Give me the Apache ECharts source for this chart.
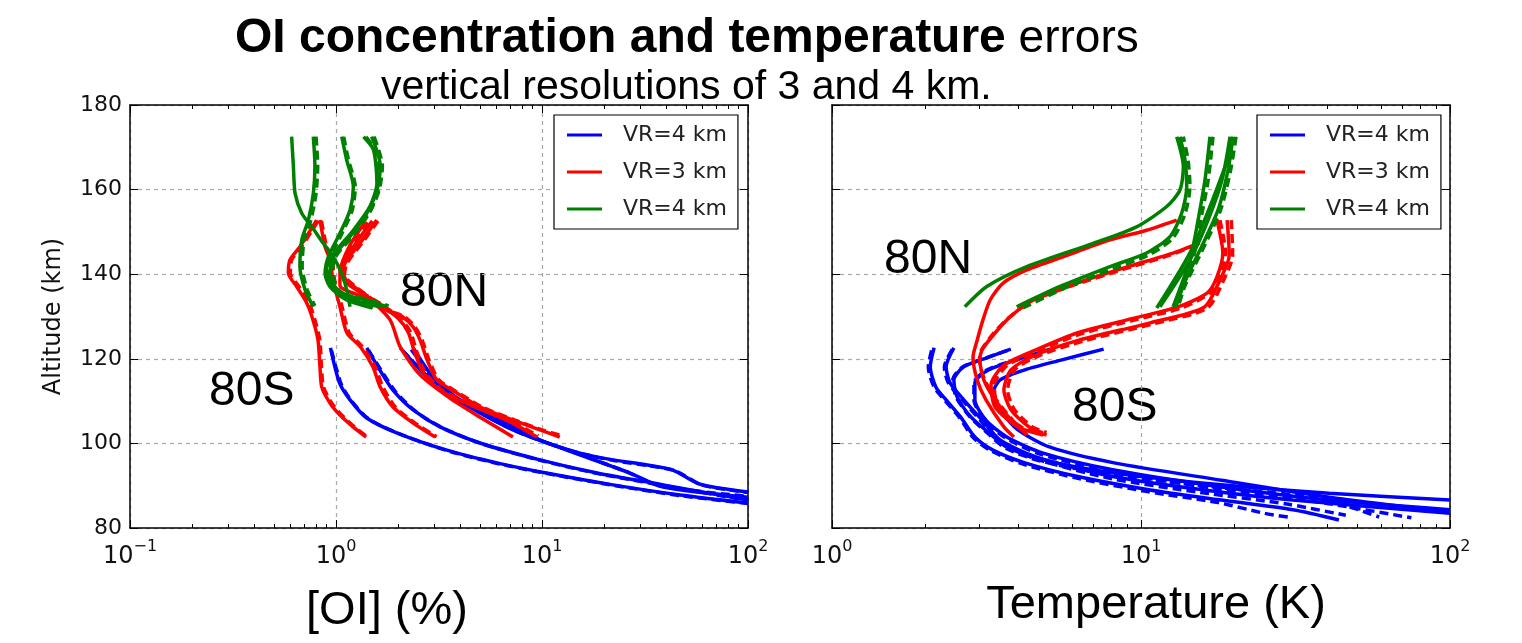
<!DOCTYPE html>
<html><head><meta charset="utf-8">
<script src="https://cdn.jsdelivr.net/npm/echarts@6/dist/echarts.min.js"></script>
<style>html,body{margin:0;padding:0;background:#fff}#c{width:1522px;height:643px}</style>
</head><body><div id="c"></div>
<script>
// ---------- data: [value, altitude km] ----------
// Left panel: [OI] error (%)
const L_B1  = [[0.94,122.6],[1.04,114.3],[1.17,110.3],[1.41,106.0],[1.97,102.5],[3.45,98.4],[6.03,95.4],[10.5,93.0],[22.1,90.2],[46.8,87.8],[100,85.9]];
const L_B1d = [[0.95,122.0],[1.06,114.0],[1.19,110.0],[1.44,105.8],[2.02,102.3],[3.52,98.2],[6.15,95.2],[10.8,92.8],[22.8,90.0],[48.0,87.6],[100,85.8]];
const L_B2  = [[1.41,122.6],[1.63,117.4],[1.89,112.6],[2.37,107.9],[3.20,103.9],[5.00,100.1],[9.77,96.1],[18.5,93.0],[38.7,90.2],[100,86.6]];
const L_B2d = [[1.44,122.0],[1.67,117.0],[1.94,112.3],[2.43,107.6],[3.28,103.7],[5.12,99.9],[10.0,95.9],[19.0,92.8],[39.5,90.0],[100,86.5]];
const L_B3  = [[2.05,122.6],[2.77,115.7],[3.46,111.9],[5.00,107.2],[7.23,103.2],[10.6,100.1],[15.3,97.7],[22.1,96.1],[32.4,94.9],[43.2,93.7],[56.5,90.6],[67.6,89.7],[100,88.5]];
const L_B3d = [[2.10,122.0],[2.83,115.5],[3.55,111.7],[5.12,107.0],[7.40,103.0],[10.9,99.9],[15.7,97.5],[22.7,95.9],[33.2,94.7],[44.5,93.5],[58.0,90.4],[69.0,89.5],[100,88.4]];
const L_B4  = [[2.37,122.6],[3.03,115.0],[4.00,110.3],[6.25,105.5],[9.77,100.8],[15.3,97.3],[26.7,93.0],[38.7,89.7],[100,87.3]];
const L_B4d = [[2.32,122.2],[2.98,115.2],[3.92,110.5],[6.12,105.7],[9.55,101.0],[15.0,97.5],[26.0,93.2],[37.8,89.9],[100,87.5]];

const L_R1  = [[0.805,152.8],[0.668,146.5],[0.598,143.4],[0.587,140.3],[0.644,137.1],[0.721,133.2],[0.773,129.2],[0.818,124.4],[0.836,118.1],[0.853,113.3],[0.936,109.5],[1.045,106.7],[1.21,103.9],[1.40,101.5]];
const L_R1d = [[0.82,152.6],[0.68,146.5],[0.61,143.4],[0.60,140.3],[0.66,137.1],[0.74,133.2],[0.79,129.2],[0.835,124.4],[0.85,118.1],[0.87,113.3],[0.955,109.5],[1.065,106.7],[1.23,103.9],[1.42,101.5]];
const L_R2  = [[0.836,152.8],[0.885,146.5],[0.936,143.4],[0.967,138.6],[1.045,132.3],[1.13,126.1],[1.31,122.9],[1.51,118.1],[1.64,113.3],[1.89,108.6],[2.37,104.8],[3.03,101.5]];
const L_R2d = [[0.85,152.6],[0.90,146.5],[0.955,143.4],[0.985,138.6],[1.07,132.3],[1.16,126.1],[1.34,122.9],[1.55,118.1],[1.69,113.3],[1.94,108.6],[2.42,104.8],[3.08,101.6]];
const L_RN1 = [[1.576,152.8],[1.31,147.4],[1.107,142.6],[1.08,139.8],[1.197,137.4],[1.76,131.5],[2.11,129.9],[2.37,127.5],[2.56,124.4],[2.77,119.7],[3.09,115.0],[3.86,111.9],[5.0,108.6],[7.23,105.5],[9.77,103.2],[12.2,101.5]];
const L_RN1d= [[1.60,152.6],[1.34,147.4],[1.13,142.6],[1.10,139.8],[1.22,137.4],[1.80,131.5],[2.16,129.9],[2.42,127.5],[2.62,124.4],[2.83,119.7],[3.16,115.0],[3.95,111.9],[5.12,108.6],[7.40,105.5],[10.0,103.2],[12.5,101.8]];
const L_RN2 = [[1.38,152.3],[1.17,146.9],[1.06,141.5],[1.107,138.2],[1.64,132.7],[2.0,129.6],[2.24,126.3],[2.39,122.1],[2.64,116.9],[3.20,112.6],[4.47,109.1],[7.0,105.1],[9.46,101.5]];
const L_RN2d= [[1.42,152.3],[1.20,146.9],[1.08,141.5],[1.13,138.2],[1.68,132.7],[2.05,129.6],[2.30,126.3],[2.45,122.1],[2.70,116.9],[3.28,112.6],[4.58,109.1],[7.15,105.1],[9.6,101.8]];
const L_RN3 = [[1.50,152.6],[1.24,147.1],[1.045,141.0],[1.045,137.4],[1.46,133.9],[1.83,129.2],[2.05,122.8],[2.56,116.2],[3.57,110.7],[5.0,106.2],[7.23,101.5]];

const L_G1  = [[0.609,172.5],[0.621,165.6],[0.633,159.1],[0.682,154.4],[0.763,151.2],[0.868,147.3],[0.970,144.1],[1.066,140.2],[1.127,136.3],[1.17,132.3]];
const L_G2  = [[0.776,172.5],[0.790,165.6],[0.776,159.1],[0.734,152.8],[0.682,148.1],[0.668,141.8],[0.708,136.3],[0.776,132.3]];
const L_G2d = [[0.80,172.5],[0.815,165.6],[0.80,159.1],[0.755,152.8],[0.70,148.1],[0.685,141.8],[0.725,136.3],[0.79,132.5]];
const L_G3  = [[1.066,172.5],[1.127,167.0],[1.214,160.7],[1.17,155.2],[1.045,149.7],[0.918,144.1],[0.885,140.2],[0.936,137.0],[1.127,133.9],[1.50,132.0]];
const L_G3d = [[1.09,172.5],[1.15,167.0],[1.24,160.7],[1.20,155.2],[1.07,149.7],[0.94,144.1],[0.905,140.2],[0.955,137.0],[1.15,133.9],[1.53,132.2]];
const L_G4  = [[1.36,172.5],[1.52,169.4],[1.58,161.5],[1.46,156.0],[1.214,150.4],[1.008,145.7],[0.901,141.8],[0.918,138.6],[1.045,135.5],[1.41,133.9],[1.76,132.3]];
const L_G4d = [[1.40,172.5],[1.56,169.0],[1.62,161.5],[1.50,156.0],[1.25,150.4],[1.035,145.7],[0.925,141.8],[0.94,138.6],[1.07,135.5],[1.45,133.9],[1.80,132.5]];
const L_G5  = [[1.49,172.5],[1.64,165.6],[1.58,159.9],[1.41,154.4],[1.17,148.9],[0.970,144.1],[0.936,140.2],[1.008,136.3],[1.214,133.9],[1.64,132.3]];
const L_G5d = [[1.53,172.5],[1.68,165.6],[1.62,159.9],[1.45,154.4],[1.20,148.9],[0.995,144.1],[0.96,140.2],[1.03,136.3],[1.25,133.9],[1.70,132.5]];

// Right panel: temperature error (K)
const R_BA  = [[2.14,122.6],[2.08,118.1],[2.17,113.3],[2.34,110.3],[2.61,106.2],[2.90,101.5],[3.32,98.4],[4.21,95.4],[6.30,92.1],[10.7,89.0],[18.2,86.6],[31.0,84.3],[43.7,81.9]];
const R_BAd = [[2.10,122.0],[2.05,118.0],[2.14,113.3],[2.31,110.3],[2.58,106.2],[2.87,101.3],[3.28,98.2],[4.15,95.1],[6.2,91.8],[10.5,88.6],[17.8,86.0],[25.0,83.5],[31.0,82.4]];
const R_BB  = [[2.48,122.6],[2.34,118.1],[2.41,114.3],[2.67,110.3],[3.06,105.5],[3.50,100.8],[4.57,96.8],[8.18,92.1],[16.0,89.0],[31.0,86.6],[100,83.5]];
const R_BBd = [[2.45,122.2],[2.31,118.1],[2.38,114.3],[2.64,110.3],[3.02,105.5],[3.46,100.6],[4.50,96.5],[8.0,91.7],[15.6,88.4],[30.0,85.6],[46.0,83.0]];
const R_BC  = [[3.79,122.3],[3.22,120.4],[2.67,118.1],[2.48,115.0],[2.54,111.0],[2.82,106.2],[3.22,102.5],[3.68,99.1],[4.82,96.1],[8.18,93.0],[18.2,90.2],[40.6,88.2],[100,86.6]];
const R_BCd = [[3.70,122.0],[3.15,120.2],[2.64,118.0],[2.46,115.0],[2.52,111.0],[2.80,106.2],[3.19,102.4],[3.64,98.9],[4.75,95.8],[8.0,92.6],[17.6,89.6],[38.0,87.0],[59.0,82.6]];
const R_BD  = [[5.08,122.3],[4.21,120.4],[3.22,117.4],[2.90,114.3],[2.90,110.3],[3.15,105.5],[3.68,101.5],[4.82,97.7],[8.18,93.7],[18.2,89.7],[40.6,86.6],[100,84.3]];
const R_BDd = [[4.95,122.0],[4.12,120.2],[3.18,117.4],[2.88,114.3],[2.88,110.3],[3.12,105.5],[3.64,101.3],[4.75,97.4],[8.0,93.3],[17.8,89.2],[40.0,85.8],[75.0,82.4]];
const R_BE  = [[7.57,122.3],[5.51,119.7],[4.21,117.4],[3.50,115.0],[3.32,111.9],[3.50,107.9],[4.00,103.2],[5.08,99.1],[8.18,95.4],[18.2,91.3],[40.6,87.3],[100,83.8]];

const R_RN1 = [[13.05,152.8],[10.43,150.4],[7.94,148.1],[5.59,144.1],[4.27,141.0],[3.58,137.9],[3.25,133.9],[3.08,129.2],[2.95,124.4],[2.86,120.4],[2.95,115.0],[3.15,110.3],[3.60,103.9],[3.88,101.5]];
const R_RN2 = [[15.5,147.4],[12.7,145.0],[9.01,141.7],[6.21,137.9],[4.47,133.9],[3.77,129.9],[3.37,126.1],[3.06,122.1],[3.01,119.7],[3.10,115.0],[3.37,110.3],[3.88,104.8],[4.28,102.0]];
const R_RN2d= [[15.2,147.0],[12.4,144.5],[8.8,141.2],[6.05,137.4],[4.38,133.5],[3.72,129.6],[3.33,126.0],[3.04,122.0],[3.0,119.7],[3.12,115.0],[3.40,110.3],[3.92,104.8],[4.32,102.2]];
const R_RS1 = [[17.6,152.8],[18.4,145.0],[17.6,139.3],[16.4,135.6],[13.1,132.2],[9.01,129.2],[6.21,126.1],[4.57,122.1],[3.60,118.5],[3.27,113.8],[3.37,108.6],[4.00,103.9],[4.82,102.0]];
const R_RS1d= [[18.0,152.8],[18.8,145.0],[18.0,139.3],[16.8,135.6],[13.5,132.0],[9.3,129.0],[6.4,125.9],[4.7,122.0],[3.70,118.5],[3.35,113.8],[3.45,108.6],[4.10,103.9],[4.95,102.0]];
const R_RS2 = [[19.0,152.8],[19.3,144.5],[18.0,138.6],[16.0,132.2],[10.7,128.5],[6.30,124.4],[4.57,120.9],[3.80,117.4],[3.60,112.6],[3.80,107.9],[4.34,103.9],[4.82,102.5]];
const R_RS2d= [[19.6,152.8],[19.8,144.5],[18.5,138.6],[16.4,132.0],[11.0,128.3],[6.5,124.2],[4.7,120.8],[3.9,117.4],[3.7,112.6],[3.9,107.9],[4.45,103.9],[4.95,102.6]];

const R_GN1 = [[2.69,132.3],[3.17,137.1],[4.27,141.8],[7.01,147.3],[9.68,151.2],[12.11,156.0],[13.37,159.9],[13.71,165.4],[13.05,172.5]];
const R_GN2 = [[3.96,132.3],[5.47,137.1],[7.94,141.8],[10.43,145.0],[12.41,148.9],[13.54,154.4],[14.06,160.7],[13.88,167.0],[13.37,172.5]];
const R_GN2d= [[4.15,132.0],[5.70,136.8],[8.2,141.4],[10.7,144.7],[12.7,148.6],[13.9,154.4],[14.4,160.7],[14.2,167.0],[13.7,172.5]];
const R_GS1 = [[16.72,172.5],[16.11,162.3],[15.30,152.8],[14.41,143.4],[12.70,132.3]];
const R_GS1d= [[17.1,172.5],[16.5,162.3],[15.6,152.8],[14.7,143.4],[12.9,132.3]];
const R_GS2 = [[19.85,172.5],[19.12,164.6],[17.76,155.2],[15.52,145.7],[13.68,137.4],[12.98,132.3]];
const R_GS2d= [[20.3,172.5],[19.5,164.6],[18.1,155.2],[15.8,145.7],[13.9,137.4],[13.2,132.3]];
const R_GS3 = [[19.41,172.5],[18.29,162.3],[16.48,152.8],[14.41,143.4],[11.52,132.3]];
const R_GS4 = [[11.24,132.0],[14.74,146.5],[19.41,168.7],[19.6,172.5]];

// tick labels / legend text
const X_TICK_EXP = {'-1':'−1','0':'0','1':'1','2':'2'};
const LEGEND_TEXT = {blue:'VR=4 km', red:'VR=3 km', green:'VR=4 km'};
const COLORS = {blue:'#0000ff', red:'#ff0000', green:'#008000'};

// which line goes where (panel, colour, dashed)
const LINES = [
  [0,'blue',false,L_B1],[0,'blue',true,L_B1d],[0,'blue',false,L_B2],[0,'blue',true,L_B2d],
  [0,'blue',false,L_B3],[0,'blue',true,L_B3d],[0,'blue',false,L_B4],[0,'blue',true,L_B4d],
  [1,'blue',false,R_BA],[1,'blue',true,R_BAd],[1,'blue',false,R_BB],[1,'blue',true,R_BBd],
  [1,'blue',false,R_BC],[1,'blue',true,R_BCd],[1,'blue',false,R_BD],[1,'blue',true,R_BDd],[1,'blue',false,R_BE],
  [0,'red',false,L_R1],[0,'red',true,L_R1d],[0,'red',false,L_R2],[0,'red',true,L_R2d],
  [0,'red',false,L_RN1],[0,'red',true,L_RN1d],[0,'red',false,L_RN2],[0,'red',true,L_RN2d],[0,'red',false,L_RN3],
  [1,'red',false,R_RN1],[1,'red',false,R_RN2],[1,'red',true,R_RN2d],[1,'red',false,R_RS1],[1,'red',true,R_RS1d],
  [1,'red',false,R_RS2],[1,'red',true,R_RS2d],
  [0,'green',false,L_G1],[0,'green',false,L_G2],[0,'green',true,L_G2d],[0,'green',false,L_G3],[0,'green',true,L_G3d],
  [0,'green',false,L_G4],[0,'green',true,L_G4d],[0,'green',false,L_G5],[0,'green',true,L_G5d],
  [1,'green',false,R_GN1],[1,'green',false,R_GN2],[1,'green',true,R_GN2d],[1,'green',false,R_GS1],[1,'green',true,R_GS1d],
  [1,'green',false,R_GS2],[1,'green',true,R_GS2d],[1,'green',false,R_GS3],[1,'green',false,R_GS4]
];

// ---------- chart ----------
const FRAME = {show:true, onZero:false, lineStyle:{color:'#000', width:1.5}};
const GRIDLINE = {show:true, lineStyle:{color:'#a8a8a8', width:1.2, type:[4,4]}};
const TICK = {show:true, inside:true, length:8, lineStyle:{color:'#000', width:1}};
function minorVals(lo, hi){ const out=[]; for(let e=lo;e<hi;e++){ for(let m=2;m<=9;m++) out.push(e+Math.log10(m)); } return out; }
function xLabel(v){ const e = X_TICK_EXP[String(Math.round(Math.log10(v)))]; return e == null ? '' : '{a|10}{s|' + e + '}'; }
const X_RICH = {
  a:{fontFamily:'DejaVu Sans', fontSize:24, color:'#111', lineHeight:30, verticalAlign:'bottom'},
  s:{fontFamily:'DejaVu Sans', fontSize:16, color:'#111', lineHeight:30, verticalAlign:'top'}
};

function xAxesFor(gi, min, max, nameText, nameGap, namePad){
  const lo = Math.round(Math.log10(min)), hi = Math.round(Math.log10(max));
  const minor = {show:true, inside:true, length:4, customValues:minorVals(lo,hi), lineStyle:{color:'#000', width:1}};
  return [
    {type:'log', gridIndex:gi, min, max, logBase:10, position:'bottom', axisLine:FRAME, axisTick:TICK,
     axisLabel:{formatter:xLabel, rich:X_RICH, margin:11, showMinLabel:true, showMaxLabel:true},
     splitLine:GRIDLINE, name:nameText, nameLocation:'middle', nameGap,
     nameTextStyle:{fontFamily:'Liberation Sans', fontSize:47, color:'#000', padding:namePad}},
    {type:'value', gridIndex:gi, min:lo, max:hi, position:'bottom', axisLine:{show:false, onZero:false}, axisTick:minor, axisLabel:{show:false}, splitLine:{show:false}},
    {type:'log', gridIndex:gi, min, max, logBase:10, position:'top', axisLine:FRAME, axisTick:TICK, axisLabel:{show:false}, splitLine:{show:false}},
    {type:'value', gridIndex:gi, min:lo, max:hi, position:'top', axisLine:{show:false, onZero:false}, axisTick:minor, axisLabel:{show:false}, splitLine:{show:false}}
  ];
}
function yAxesFor(gi, withLabels){
  const main = {type:'value', gridIndex:gi, min:80, max:180, interval:20, position:'left', axisLine:FRAME, axisTick:TICK,
     axisLabel:{show:withLabels, fontFamily:'DejaVu Sans', fontSize:22, color:'#111', margin:8}, splitLine:GRIDLINE};
  if (withLabels){ Object.assign(main, {name:'Altitude (km)', nameLocation:'middle', nameGap:64, nameRotate:90,
     nameTextStyle:{fontFamily:'DejaVu Sans', fontSize:24, color:'#111'}}); }
  return [main, {type:'value', gridIndex:gi, min:80, max:180, interval:20, position:'right', axisLine:FRAME, axisTick:TICK, axisLabel:{show:false}, splitLine:{show:false}}];
}
function mkLegend(left){
  return {left, top:115, orient:'vertical', data:['blue','red','green'], formatter:n=>LEGEND_TEXT[n],
    icon:'rect', itemWidth:35, itemHeight:3, itemGap:11, padding:[7,11,7,13], borderColor:'#000', borderWidth:1.2,
    backgroundColor:'#fff', selectedMode:false,
    textStyle:{fontFamily:'DejaVu Sans', fontSize:22, color:'#222', lineHeight:26, padding:[0,0,0,16]}};
}
const series = LINES.map(([g,c,dashed,data]) => ({
  type:'line', name:c, data, xAxisIndex:g*4, yAxisIndex:g*2, symbol:'none', showSymbol:false,
  smooth:0.25, silent:true, animation:false,
  lineStyle:{color:COLORS[c], width:3.5, type: dashed ? [9,5] : 'solid'}, itemStyle:{color:COLORS[c]}
}));
const annFont = {fontFamily:'Liberation Sans', fontSize:48, fill:'#000', textAlign:'left', textVerticalAlign:'middle'};
const option = {
  animation:false, backgroundColor:'#fff',
  title:[
    {text:'{b|OI concentration and temperature}{n| errors}', left:235, top:15, padding:0,
     textStyle:{rich:{b:{fontFamily:'Liberation Sans', fontWeight:'bold', fontSize:48, color:'#000'},
                      n:{fontFamily:'Liberation Sans', fontWeight:'normal', fontSize:46, color:'#000'}}}},
    {text:'vertical resolutions of 3 and 4 km.', left:381, top:67, padding:0,
     textStyle:{fontFamily:'Liberation Sans', fontWeight:'normal', fontSize:41, color:'#000'}}
  ],
  grid:[{left:130, top:105, width:618, height:423}, {left:832, top:105, width:618, height:423}],
  xAxis:[...xAxesFor(0, 0.1, 100, '[OI] (%)', 60, [0,104,0,0]), ...xAxesFor(1, 1, 100, 'Temperature (K)', 54, [0,0,0,30])],
  yAxis:[...yAxesFor(0, true), ...yAxesFor(1, false)],
  legend:[mkLegend(554), mkLegend(1257)],
  graphic:[
    {type:'text', x:400, y:293, style:Object.assign({text:'80N'}, annFont)},
    {type:'text', x:209, y:392, style:Object.assign({text:'80S'}, annFont)},
    {type:'text', x:884, y:260, style:Object.assign({text:'80N'}, annFont)},
    {type:'text', x:1072, y:408, style:Object.assign({text:'80S'}, annFont)}
  ],
  series
};
const chart = echarts.init(document.getElementById('c'), null, {renderer:'canvas'});
chart.setOption(option);
</script></body></html>
